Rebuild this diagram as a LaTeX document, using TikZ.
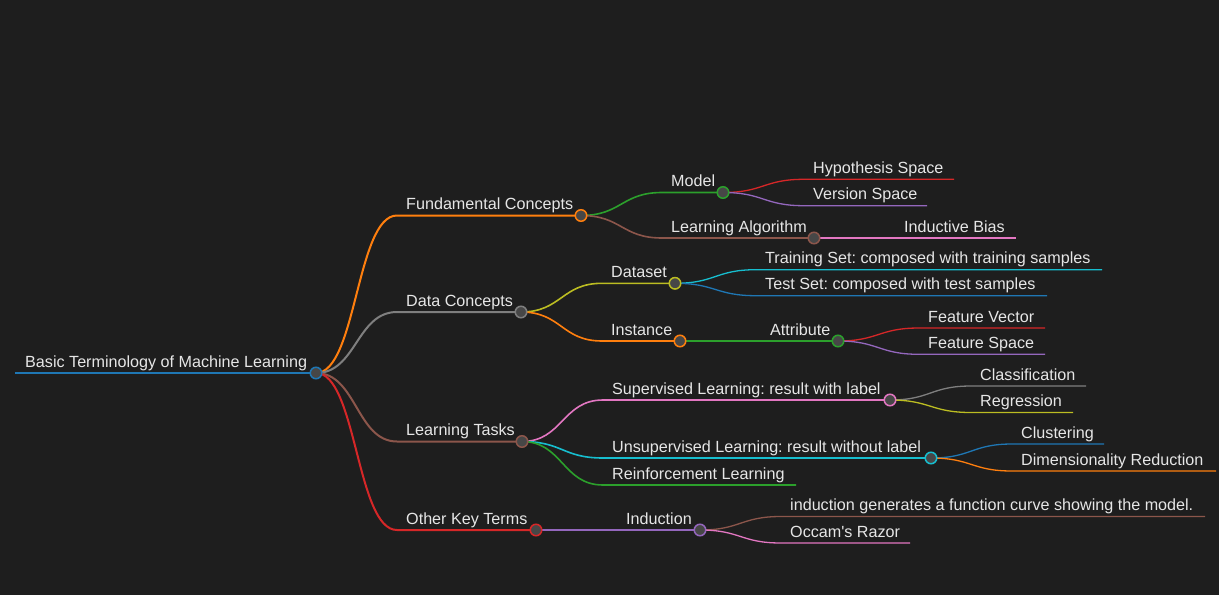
\documentclass[tikz,border=0pt]{standalone}
\usepackage{fontspec}
\setmainfont{Liberation Sans}
\usepackage{tikz}
\usetikzlibrary{calc}
\frenchspacing

\definecolor{bg}{HTML}{1E1E1E}
\definecolor{fg}{HTML}{E6E6E6}
\definecolor{dotfill}{HTML}{474747}
\definecolor{cBlue}{HTML}{1F77B4}
\definecolor{cOrange}{HTML}{FF7F0E}
\definecolor{cGreen}{HTML}{2CA02C}
\definecolor{cRed}{HTML}{D62728}
\definecolor{cPurple}{HTML}{9467BD}
\definecolor{cBrown}{HTML}{8C564B}
\definecolor{cPink}{HTML}{E377C2}
\definecolor{cGray}{HTML}{7F7F7F}
\definecolor{cOlive}{HTML}{BCBD22}
\definecolor{cCyan}{HTML}{17BECF}

\begin{document}
\begin{tikzpicture}[x=1pt, y=-1pt,
    lbl/.style={anchor=base west, inner sep=0pt, text=fg, font=\fontsize{16.15}{19}\selectfont},
    dot/.style={circle, fill=dotfill, line width=1.5pt, minimum size=11.5pt, inner sep=0pt},
    link/.style={to path={let \p1=(\tikztostart), \p2=(\tikztotarget) in
        .. controls ({(\x1+\x2)/2},\y1) and ({(\x1+\x2)/2},\y2) .. (\tikztotarget)}},
    d0/.style={line width=2.5pt},
    d1/.style={line width=2pt},
    d2/.style={line width=1.6pt},
    d3/.style={line width=1.3pt}]
    \useasboundingbox (0, 0) rectangle (1219, 595);
    \fill[bg] (0, 0) rectangle (1219, 595);

    % line starts (-a) and ends / circles
    \coordinate (root-a) at (15, 373);      \coordinate (root) at (316, 373);
    \coordinate (fc-a) at (397, 215.5);     \coordinate (fc) at (581, 215.5);
    \coordinate (dc-a) at (397, 312);       \coordinate (dc) at (521, 312);
    \coordinate (lt-a) at (397, 441.5);     \coordinate (lt) at (522, 441.5);
    \coordinate (ok-a) at (397, 530);       \coordinate (ok) at (536, 530);

    \coordinate (mo-a) at (662, 192.5);     \coordinate (mo) at (723, 192.5);
    \coordinate (la-a) at (662, 238);       \coordinate (la) at (814, 238);
    \coordinate (hs-a) at (804, 179.3);     \coordinate (hs) at (954, 179.3);
    \coordinate (vs-a) at (804, 205.7);     \coordinate (vs) at (927, 205.7);
    \coordinate (ib-a) at (895, 238);       \coordinate (ib) at (1016, 238);

    \coordinate (ds-a) at (602, 283.3);     \coordinate (ds) at (675, 283.3);
    \coordinate (in-a) at (602, 341);       \coordinate (in) at (680, 341);
    \coordinate (tr-a) at (756, 269.7);     \coordinate (tr) at (1102, 269.7);
    \coordinate (te-a) at (756, 295.7);     \coordinate (te) at (1047, 295.7);
    \coordinate (at-a) at (761, 341);       \coordinate (at) at (838, 341);
    \coordinate (fv-a) at (919, 328);       \coordinate (fv) at (1045, 328);
    \coordinate (fs-a) at (919, 354.3);     \coordinate (fs) at (1045, 354.3);

    \coordinate (sl-a) at (603, 400);       \coordinate (sl) at (890, 400);
    \coordinate (ul-a) at (603, 458);       \coordinate (ul) at (931, 458);
    \coordinate (rl-a) at (603, 485);       \coordinate (rl) at (796, 485);
    \coordinate (cl-a) at (971, 386);       \coordinate (cl) at (1086, 386);
    \coordinate (re-a) at (971, 412.5);     \coordinate (re) at (1073, 412.5);
    \coordinate (cu-a) at (1012, 444);      \coordinate (cu) at (1104, 444);
    \coordinate (dr-a) at (1012, 471);      \coordinate (dr) at (1216, 471);

    \coordinate (id-a) at (617, 530);       \coordinate (id) at (700, 530);
    \coordinate (ig-a) at (781, 516.5);     \coordinate (ig) at (1205, 516.5);
    \coordinate (oc-a) at (781, 543);       \coordinate (oc) at (910, 543);

    % links
    \draw[cBlue, d0] (root-a) -- (root);
    \draw[cOrange, d1] (root) to[link] (fc-a) -- (fc);
    \draw[cGray, d1] (root) to[link] (dc-a) -- (dc);
    \draw[cBrown, d1] (root) to[link] (lt-a) -- (lt);
    \draw[cRed, d1] (root) to[link] (ok-a) -- (ok);

    \draw[cGreen, d2] (fc) to[link] (mo-a) -- (mo);
    \draw[cBrown, d2] (fc) to[link] (la-a) -- (la);
    \draw[cRed, d3] (mo) to[link] (hs-a) -- (hs);
    \draw[cPurple, d3] (mo) to[link] (vs-a) -- (vs);
    \draw[cPink, d3] (la) -- (ib-a) -- (ib);

    \draw[cOlive, d2] (dc) to[link] (ds-a) -- (ds);
    \draw[cOrange, d2] (dc) to[link] (in-a) -- (in);
    \draw[cCyan, d3] (ds) to[link] (tr-a) -- (tr);
    \draw[cBlue, d3] (ds) to[link] (te-a) -- (te);
    \draw[cGreen, d3] (in) -- (at-a) -- (at);
    \draw[cRed, d3] (at) to[link] (fv-a) -- (fv);
    \draw[cPurple, d3] (at) to[link] (fs-a) -- (fs);

    \draw[cPink, d2] (lt) to[link] (sl-a) -- (sl);
    \draw[cCyan, d2] (lt) to[link] (ul-a) -- (ul);
    \draw[cGreen, d2] (lt) to[link] (rl-a) -- (rl);
    \draw[cGray, d3] (sl) to[link] (cl-a) -- (cl);
    \draw[cOlive, d3] (sl) to[link] (re-a) -- (re);
    \draw[cBlue, d3] (ul) to[link] (cu-a) -- (cu);
    \draw[cOrange, d3] (ul) to[link] (dr-a) -- (dr);

    \draw[cPurple, d2] (ok) -- (id-a) -- (id);
    \draw[cBrown, d3] (id) to[link] (ig-a) -- (ig);
    \draw[cPink, d3] (id) to[link] (oc-a) -- (oc);

    % circles
    \node[dot, draw=cBlue] (root-o) at (root) {};
    \node[dot, draw=cOrange] (fc-o) at (fc) {};
    \node[dot, draw=cGray] (dc-o) at (dc) {};
    \node[dot, draw=cBrown] (lt-o) at (lt) {};
    \node[dot, draw=cRed] (ok-o) at (ok) {};
    \node[dot, draw=cGreen] (mo-o) at (mo) {};
    \node[dot, draw=cBrown] (la-o) at (la) {};
    \node[dot, draw=cOlive] (ds-o) at (ds) {};
    \node[dot, draw=cOrange] (in-o) at (in) {};
    \node[dot, draw=cGreen] (at-o) at (at) {};
    \node[dot, draw=cPink] (sl-o) at (sl) {};
    \node[dot, draw=cCyan] (ul-o) at (ul) {};
    \node[dot, draw=cPurple] (id-o) at (id) {};

    % labels
    \node[lbl] (root-t) at (25, 367) {Basic Terminology of Machine Learning};
    \node[lbl] (fc-t) at (406, 209.5) {Fundamental Concepts};
    \node[lbl] (dc-t) at (406, 306) {Data Concepts};
    \node[lbl] (lt-t) at (406, 435.5) {Learning Tasks};
    \node[lbl] (ok-t) at (406, 524) {Other Key Terms};

    \node[lbl] (mo-t) at (671, 186.5) {Model};
    \node[lbl] (la-t) at (671, 232) {Learning Algorithm};
    \node[lbl] (hs-t) at (813, 173.3) {Hypothesis Space};
    \node[lbl] (vs-t) at (813, 199.7) {Version Space};
    \node[lbl] (ib-t) at (904, 232) {Inductive Bias};

    \node[lbl] (ds-t) at (611, 277.3) {Dataset};
    \node[lbl] (in-t) at (611, 335) {Instance};
    \node[lbl] (tr-t) at (765, 263.7) {Training Set: composed with training samples};
    \node[lbl] (te-t) at (765, 289.7) {Test Set: composed with test samples};
    \node[lbl] (at-t) at (770, 335) {Attribute};
    \node[lbl] (fv-t) at (928, 322) {Feature Vector};
    \node[lbl] (fs-t) at (928, 348.3) {Feature Space};

    \node[lbl] (sl-t) at (612, 394) {Supervised Learning: result with label};
    \node[lbl] (ul-t) at (612, 452) {Unsupervised Learning: result without label};
    \node[lbl] (rl-t) at (612, 479) {Reinforcement Learning};
    \node[lbl] (cl-t) at (980, 380) {Classification};
    \node[lbl] (re-t) at (980, 406.5) {Regression};
    \node[lbl] (cu-t) at (1021, 438) {Clustering};
    \node[lbl] (dr-t) at (1021, 465) {Dimensionality Reduction};

    \node[lbl] (id-t) at (626, 524) {Induction};
    \node[lbl] (ig-t) at (790, 510.5) {induction generates a function curve showing the model.};
    \node[lbl] (oc-t) at (790, 537) {Occam\textquotesingle s Razor};
\end{tikzpicture}
\end{document}
